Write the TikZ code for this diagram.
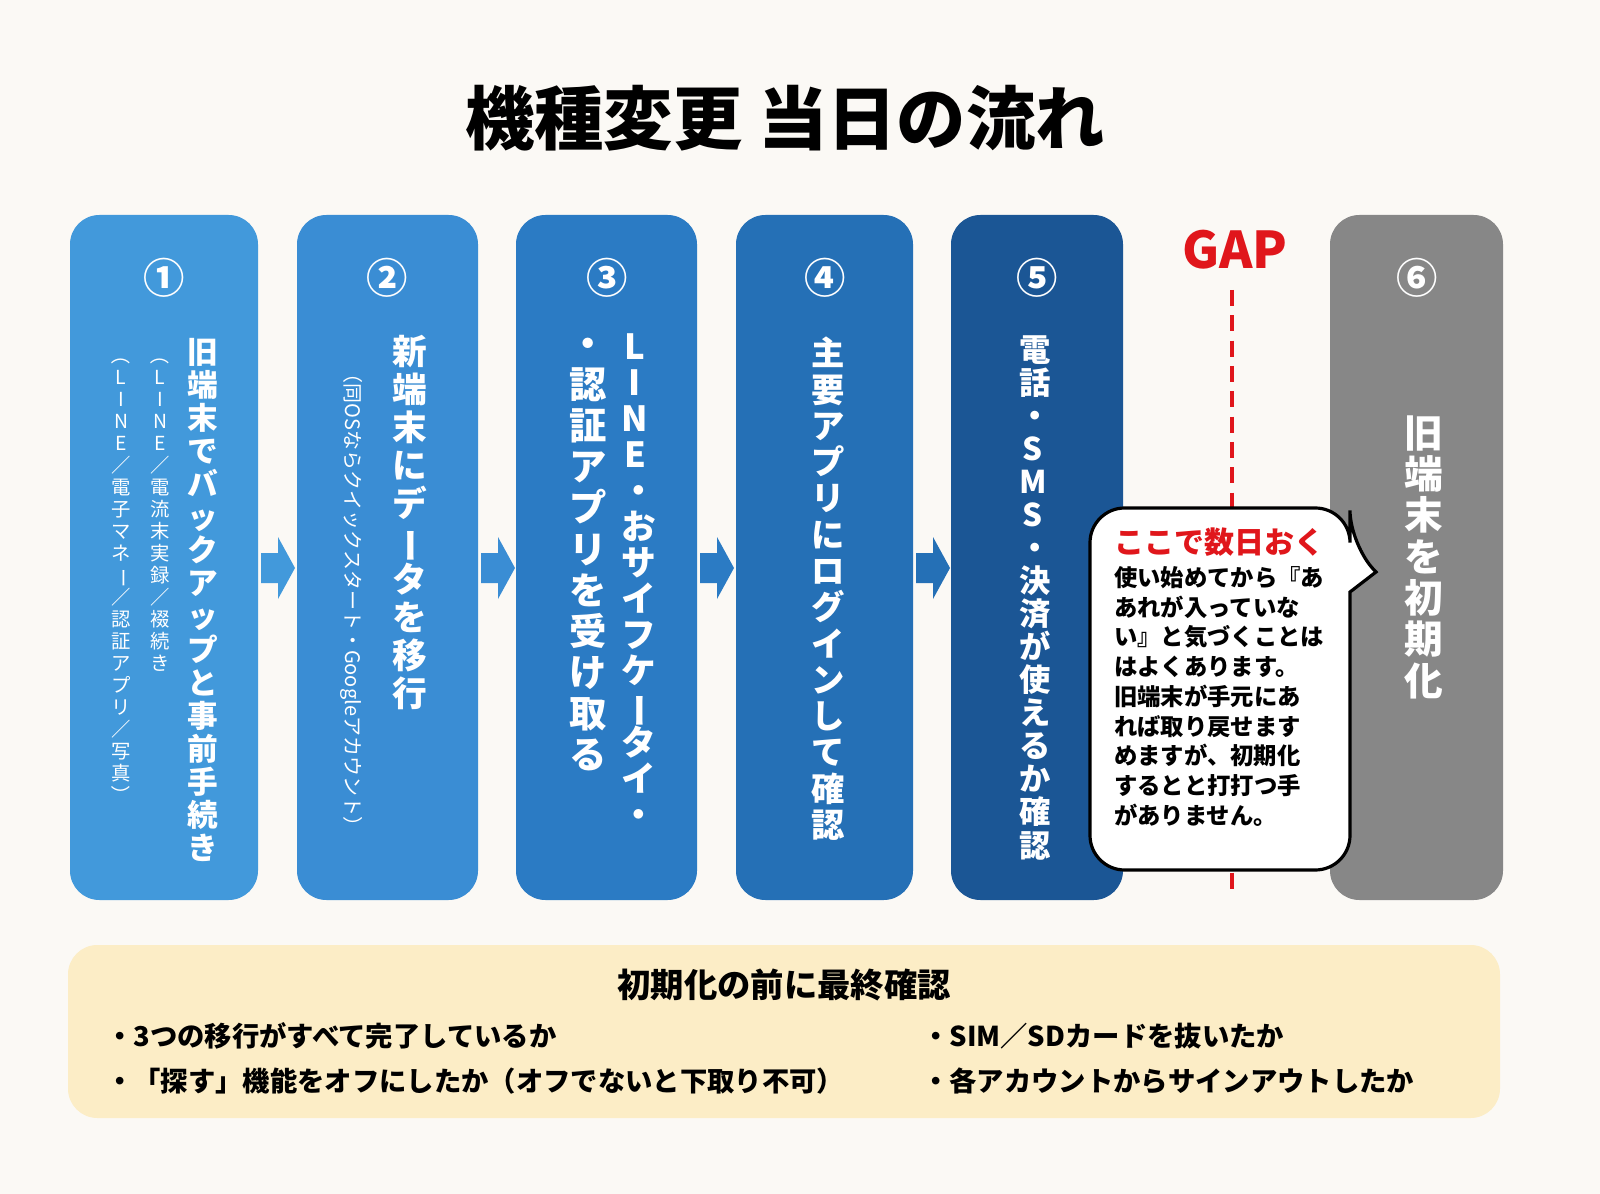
\documentclass[tikz,border=0pt]{standalone}
\usepackage{fontspec}
\usepackage{graphicx}
\setmainfont{Noto Sans CJK JP}
\ExplSyntaxOn
\NewDocumentCommand\vt{m}{\lineskiplimit=-100pt\parskip=0pt\text_map_inline:nn{#1}{
  \str_case:nnF{##1}{
    {ー}{\rotatebox[origin=c]{-90}{ー}}
    {（}{\rotatebox[origin=c]{-90}{（}}
    {）}{\rotatebox[origin=c]{-90}{）}}
  }{##1}\par}}
\ExplSyntaxOff
\definecolor{bg}{HTML}{FBF9F5}
\definecolor{c1}{HTML}{4299DB}
\definecolor{c2}{HTML}{3A8DD4}
\definecolor{c3}{HTML}{2B7BC4}
\definecolor{c4}{HTML}{2570B6}
\definecolor{c5}{HTML}{1B5695}
\definecolor{c6}{HTML}{878787}
\definecolor{gapred}{HTML}{E0161B}
\definecolor{note}{HTML}{FCEDC6}
\tikzset{
  col/.style={rounded corners=22pt,draw=none},
  num/.style={text=white,font=\bfseries\fontsize{31}{33}\selectfont},
  vmain/.style={anchor=north,text=white,text width=2em,align=center,inner sep=0pt,font=\bfseries\fontsize{23}{24.8}\selectfont},
  vsub/.style={anchor=north,text=white,text width=2em,align=center,inner sep=0pt,font=\fontsize{14.5}{16.5}\selectfont},
}
\begin{document}
\begin{tikzpicture}[x=0.75pt,y=-0.75pt]
\fill[bg] (0,0) rectangle (1600,1194);
\useasboundingbox (0,0) rectangle (1600,1194);
\node[font=\bfseries\fontsize{52}{56}\selectfont] (title) at (785,118) {機種変更 当日の流れ};
% columns
\fill[c1,col] (70,215) rectangle (258,900);
\fill[c2,col] (297,215) rectangle (478,900);
\fill[c3,col] (516,215) rectangle (697,900);
\fill[c4,col] (736,215) rectangle (913,900);
\fill[c5,col] (951,215) rectangle (1123,900);
\fill[c6,col] (1330,215) rectangle (1503,900);
% arrows
\foreach \x/\c in {261/c1,481/c2,700/c3,916/c4}{
  \fill[\c] (\x,553) -- (\x+17,553) -- (\x+17,537) -- (\x+34,568) -- (\x+17,599) -- (\x+17,583) -- (\x,583) -- cycle;
}
% numbers
\node[num] (n1) at (164,278) {①};
\node[num] (n2) at (387,278) {②};
\node[num] (n3) at (607,278) {③};
\node[num] (n4) at (825,278) {④};
\node[num] (n5) at (1037,278) {⑤};
\node[num] (n6) at (1417,278) {⑥};
% texts
\node[vmain] (t1) at (201,338) {\vt{旧端末でバックアップと事前手続き}};
\node[vsub] (s1a) at (160,345) {\vt{（LINE／電流末実録／裰続き}};
\node[vsub] (s1b) at (121,345) {\vt{（LINE／電子マネー／認証アプリ／写真）}};
\node[vmain,font=\bfseries\fontsize{26}{28.5}\selectfont] (t2) at (406,335) {\vt{新端末にデータを移行}};
\node[text=white,rotate=-90,font=\fontsize{15}{16}\selectfont] (s2) at (352,600) {（同OSならクイックスタート・Googleアカウント）};
\node[vmain,font=\bfseries\fontsize{26}{27}\selectfont] (t3a) at (635,333) {\vt{LINE・おサイフケータイ・}};
\node[vmain,font=\bfseries\fontsize{28}{30.8}\selectfont] (t3b) at (583,338) {\vt{・認証アプリを受け取る}};
\node[vmain,font=\bfseries\fontsize{25}{27.2}\selectfont] (t4) at (825,337) {\vt{主要アプリにログインして確認}};
\node[vmain,font=\bfseries\fontsize{23.5}{24.8}\selectfont] (t5) at (1033,335) {\vt{電話・SMS・決済が使えるか確認}};
\node[vmain,font=\bfseries\fontsize{29}{31}\selectfont] (t6) at (1418,415) {\vt{旧端末を初期化}};
% GAP
\node[text=gapred,font=\bfseries\fontsize{38}{40}\selectfont] (gap) at (1235,250) {GAP};
\coordinate (gt) at (1232,290);
\coordinate (gb) at (1232,895);
\draw[gapred,line width=2.6pt,dash pattern=on 12pt off 7pt] (gt) -- (gb);
% bubble
\draw[black,line width=2.4pt,fill=white,rounded corners=26pt]
  (1090,508) -- (1350,508) -- (1350,545) [sharp corners]-- (1376,572) -- (1350,592) [rounded corners=26pt]-- (1350,870) -- (1090,870) -- cycle;
\node[anchor=north west,inner sep=0pt,align=left,font=\bfseries\fontsize{17.5}{22.3}\selectfont] (bubble) at (1114,528)
 {\textcolor{gapred}{\fontsize{22.5}{24}\selectfont ここで数日おく}\\[2pt]
  使い始めてから『あ\\あれが入っていな\\い』と気づくことは\\はよくあります。\\旧端末が手元にあ\\れば取り戻せます\\めますが、初期化\\するとと打打つ手\\がありません。};
% bottom box
\fill[note,rounded corners=22pt] (68,945) rectangle (1500,1118);
\node[font=\bfseries\fontsize{25}{28}\selectfont] (head) at (784,985) {初期化の前に最終確認};
\tikzset{bul/.style={anchor=west,inner sep=0pt,font=\bfseries\fontsize{20.5}{24}\selectfont}}
\node[bul] (l1) at (106,1036) {・3つの移行がすべて完了しているか};
\node[bul] (l2) at (106,1081) {・「探す」機能をオフにしたか（オフでないと下取り不可）};
\node[bul] (r1) at (922,1036) {・SIM／SDカードを抜いたか};
\node[bul] (r2) at (922,1081) {・各アカウントからサインアウトしたか};
\end{tikzpicture}
\end{document}
